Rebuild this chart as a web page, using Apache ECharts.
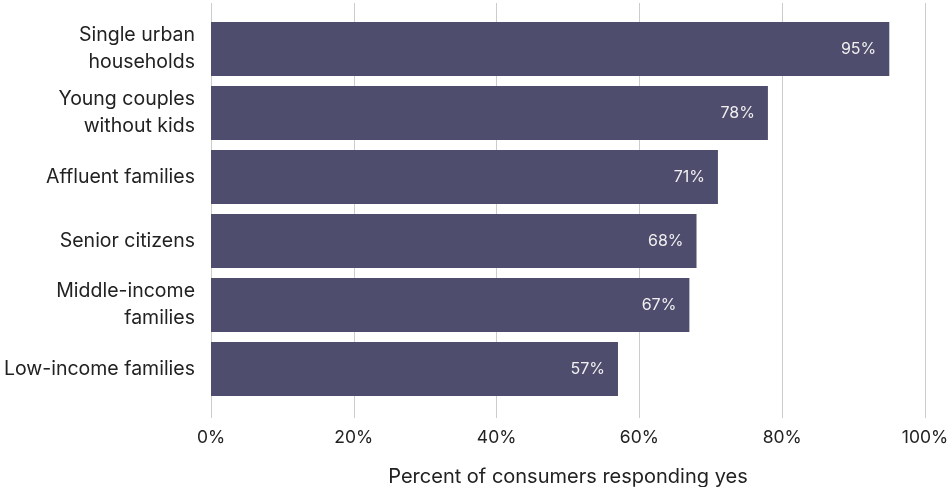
<!DOCTYPE html>
<html lang="en">
<head>
    <meta charset="UTF-8">
    <title>Percent of consumers responding yes</title>
    <script src="https://cdn.jsdelivr.net/npm/echarts@6/dist/echarts.min.js"></script>
    <style>
        html, body { margin: 0; padding: 0; background: #fff; }
        #chart { width: 950px; height: 487px; }
    </style>
</head>
<body>
    <div id="chart"></div>
    <script>
        // data, top to bottom
        const categories = [
            'Single urban\nhouseholds',
            'Young couples\nwithout kids',
            'Affluent families',
            'Senior citizens',
            'Middle-income\nfamilies',
            'Low-income families'
        ];
        const values = [95, 78, 71, 68, 67, 57];
        const xTicks = [0, 20, 40, 60, 80, 100];

        const font = 'Inter, Roboto, sans-serif';
        const chart = echarts.init(document.getElementById('chart'));

        const option = {
            animation: false,
            textStyle: { fontFamily: font },
            grid: [
                // bars
                { left: 211, right: 25, top: 17, height: 384, outerBoundsMode: 'none', containLabel: false },
                // taller grid only for the vertical gridlines and tick labels
                { left: 211, right: 25, top: 3, height: 415, outerBoundsMode: 'none', containLabel: false }
            ],
            xAxis: [
                {
                    gridIndex: 0, type: 'value', min: 0, max: 100, interval: 20,
                    axisLine: { show: false }, axisTick: { show: false },
                    axisLabel: { show: false }, splitLine: { show: false }
                },
                {
                    gridIndex: 1, type: 'value', min: 0, max: 100, interval: 20,
                    axisLine: { show: false }, axisTick: { show: false },
                    axisLabel: {
                        formatter: v => xTicks.includes(v) ? v + '%' : '',
                        color: '#222', fontSize: 17.5, margin: 11, fontFamily: font
                    },
                    splitLine: { show: true, lineStyle: { color: '#cccccc', width: 1 } },
                    name: 'Percent of consumers responding yes',
                    nameLocation: 'middle', nameGap: 49,
                    nameTextStyle: { color: '#222', fontSize: 20, fontFamily: font }
                }
            ],
            yAxis: [
                {
                    gridIndex: 0, type: 'category', data: categories, inverse: true,
                    axisLine: { show: false }, axisTick: { show: false },
                    axisLabel: {
                        color: '#222', fontSize: 19.5, lineHeight: 27, margin: 16,
                        align: 'right', fontFamily: font
                    }
                },
                {
                    gridIndex: 1, type: 'value', show: false
                }
            ],
            series: [
                {
                    type: 'bar',
                    xAxisIndex: 0, yAxisIndex: 0,
                    data: values,
                    barCategoryGap: '15.6%',
                    itemStyle: { color: '#4e4d6d' },
                    label: {
                        show: true, position: 'insideRight', distance: 13,
                        formatter: p => p.value + '%',
                        color: '#f0f0f0', fontSize: 16, fontFamily: font
                    }
                }
            ]
        };
        chart.setOption(option);
    </script>
</body>
</html>
